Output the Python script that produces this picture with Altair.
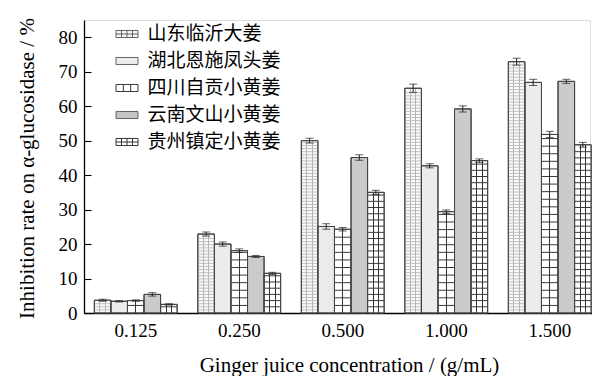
import altair as alt
import pandas as pd

concentrations = ["0.125", "0.250", "0.500", "1.000", "1.500"]
varieties = ["山东临沂大姜", "湖北恩施凤头姜", "四川自贡小黄姜", "云南文山小黄姜", "贵州镇定小黄姜"]

# inhibition rate (%) for each variety, one value per concentration
shandong = [3.7, 22.9, 50.0, 65.2, 72.9]
hubei = [3.4, 20.0, 25.1, 42.7, 66.9]
sichuan = [3.6, 18.1, 24.3, 29.4, 51.8]
yunnan = [5.4, 16.4, 45.1, 59.2, 67.2]
guizhou = [2.5, 11.5, 35.0, 44.2, 48.8]

# standard deviations
shandong_sd = [0.3, 0.6, 0.7, 1.2, 1.0]
hubei_sd = [0.2, 0.6, 0.8, 0.6, 0.9]
sichuan_sd = [0.2, 0.5, 0.5, 0.5, 0.9]
yunnan_sd = [0.5, 0.3, 0.8, 0.9, 0.6]
guizhou_sd = [0.2, 0.3, 0.6, 0.5, 0.7]

y_ticks = [0, 10, 20, 30, 40, 50, 60, 70, 80]

series = [shandong, hubei, sichuan, yunnan, guizhou]
errors = [shandong_sd, hubei_sd, sichuan_sd, yunnan_sd, guizhou_sd]

rows = []
for name, vals, sds in zip(varieties, series, errors):
    for c, v, s in zip(concentrations, vals, sds):
        rows.append({"conc": c, "variety": name, "rate": v,
                     "lo": v - s, "hi": v + s})
df = pd.DataFrame(rows)

# ---- hatch styling (fill textures) ----
def vstripes(positions, line, bg="white", half=0.03):
    stops = [{"offset": 0, "color": bg}]
    for p in positions:
        stops += [{"offset": p - half, "color": bg},
                  {"offset": p - half, "color": line},
                  {"offset": p + half, "color": line},
                  {"offset": p + half, "color": bg}]
    stops.append({"offset": 1, "color": bg})
    return {"gradient": "linear", "x1": 0, "y1": 0, "x2": 1, "y2": 0,
            "stops": stops}

fills = {
    varieties[0]: vstripes([1 / 3, 2 / 3], "#b4b4b4", bg="#fafafa"),
    varieties[1]: "#ececec",
    varieties[2]: vstripes([0.5], "#333333"),
    varieties[3]: "#cbcbcb",
    varieties[4]: vstripes([1 / 3, 2 / 3], "#333333"),
}
# horizontal hatch spacing (in % units) and colour
h_style = {
    varieties[0]: (0.9, "#bdbdbd"),
    varieties[2]: (2.2, "#333333"),
    varieties[4]: (1.8, "#333333"),
}
hrows = []
for name, vals in zip(varieties, series):
    if name not in h_style:
        continue
    step, col = h_style[name]
    for c, v in zip(concentrations, vals):
        k = 1
        while k * step < v - 0.4:
            hrows.append({"conc": c, "variety": name,
                          "h0": k * step - 0.14, "h1": k * step + 0.14,
                          "col": col})
            k += 1
hatch = pd.DataFrame(hrows)

legend_paths = [
    "M-1,-0.32H1V0.32H-1Z M-0.5,-0.32V0.32 M0,-0.32V0.32 M0.5,-0.32V0.32 M-1,0H1",
    "M-1,-0.32H1V0.32H-1Z",
    "M-1,-0.32H1V0.32H-1Z M-0.33,-0.32V0.32 M0.33,-0.32V0.32",
    "M-1,-0.32H1V0.32H-1Z",
    "M-1,-0.32H1V0.32H-1Z M-0.5,-0.32V0.32 M0,-0.32V0.32 M0.5,-0.32V0.32 M-1,0H1",
]
legend_fills = ["#f6f6f6", "#ececec", "white", "#c4c4c4", "white"]
legend_strokes = ["#555555", "#555555", "#222222", "#555555", "#222222"]

SERIF = "Liberation Serif"

x_enc = alt.X("conc:N", sort=concentrations,
              scale=alt.Scale(domain=concentrations, range=[0, 517.5],
                              paddingInner=0.2, paddingOuter=0.1),
              axis=alt.Axis(title="Ginger juice concentration / (g/mL)",
                            labelAngle=0, ticks=False, labelPadding=8,
                            labelFont=SERIF, labelFontSize=19,
                            labelColor="black", titleFont=SERIF,
                            titleFontSize=21, titleFontWeight="normal",
                            titleColor="black", titleX=265, titleY=58,
                            titleBaseline="alphabetic",
                            domainColor="black", domainWidth=1.3))
xo_enc = alt.XOffset("variety:N", sort=varieties,
                     scale=alt.Scale(domain=varieties, paddingInner=0,
                                     paddingOuter=0))
y_scale = alt.Scale(domain=[0, 85], nice=False)
# inward ticks: negative tick length given as an expression
y_axis = alt.Axis(title="Inhibition rate on α-glucosidase / %",
                  values=y_ticks, grid=False, labelOverlap=False,
                  tickSize=alt.ExprRef(expr="-7"), tickColor="black",
                  tickWidth=1.1, labelPadding=14,
                  labelFont=SERIF, labelFontSize=19, labelColor="black",
                  titleFont=SERIF, titleFontSize=21, titleFontWeight="normal",
                  titleColor="black", titleX=-51, titleY=148,
                  titleBaseline="alphabetic",
                  domainColor="black", domainWidth=1.3)

base = alt.Chart(df)
x_plain = alt.X("conc:N", sort=concentrations)
xo_plain = alt.XOffset("variety:N", sort=varieties)

layers = []
for name in varieties:
    layers.append(
        base.transform_filter(alt.datum.variety == name)
        .mark_bar(fill=fills[name], stroke="#444444", strokeWidth=1)
        .encode(x=x_enc, xOffset=xo_enc,
                y=alt.Y("rate:Q", scale=y_scale, axis=y_axis))
    )

hatch_layer = alt.Chart(hatch).mark_bar().encode(
    x=x_plain, xOffset=xo_plain,
    y=alt.Y("h0:Q", axis=y_axis), y2="h1:Q",
    color=alt.Color("col:N", scale=None),
)

outline = base.mark_bar(fill=None, stroke="#444444", strokeWidth=1).encode(
    x=x_plain, xOffset=xo_plain, y=alt.Y("rate:Q", axis=y_axis),
)

err_rule = base.mark_rule(color="#222222", strokeWidth=1).encode(
    x=x_plain, xOffset=xo_plain, y=alt.Y("lo:Q", axis=y_axis), y2="hi:Q",
)
cap_hi = base.mark_tick(color="#222222", size=8, thickness=1).encode(
    x=x_plain, xOffset=xo_plain, y=alt.Y("hi:Q", axis=y_axis),
)
cap_lo = base.mark_tick(color="#222222", size=8, thickness=1).encode(
    x=x_plain, xOffset=xo_plain, y=alt.Y("lo:Q", axis=y_axis),
)

legend_props = dict(title=None, orient="none", legendX=31.5, legendY=2.5,
                    symbolSize=484, symbolStrokeWidth=0.9, symbolOpacity=1,
                    labelOffset=9, rowPadding=5, padding=0,
                    labelFont="Noto Sans CJK SC", labelFontSize=19,
                    labelColor="black", labelLimit=0)
key_layer = base.mark_point(filled=True, opacity=0, strokeWidth=0.9).encode(
    x=x_plain, xOffset=xo_plain, y=alt.Y("rate:Q", axis=y_axis),
    fill=alt.Fill("variety:N", sort=varieties,
                  scale=alt.Scale(domain=varieties, range=legend_fills),
                  legend=alt.Legend(**legend_props)),
    stroke=alt.Stroke("variety:N", sort=varieties,
                      scale=alt.Scale(domain=varieties, range=legend_strokes),
                      legend=alt.Legend(**legend_props)),
    shape=alt.Shape("variety:N", sort=varieties,
                    scale=alt.Scale(domain=varieties, range=legend_paths),
                    legend=alt.Legend(**legend_props)),
)

chart = alt.layer(*layers, hatch_layer, outline, err_rule, cap_hi, cap_lo,
                  key_layer).properties(
    width=506, height=293,
    autosize=alt.AutoSizeParams(type="none"),
    padding={"left": 84, "top": 20, "right": 2, "bottom": 63},
).configure_view(stroke=None).configure(background="white")

chart.save("out.html", embed_options={"renderer": "svg", "actions": False})
